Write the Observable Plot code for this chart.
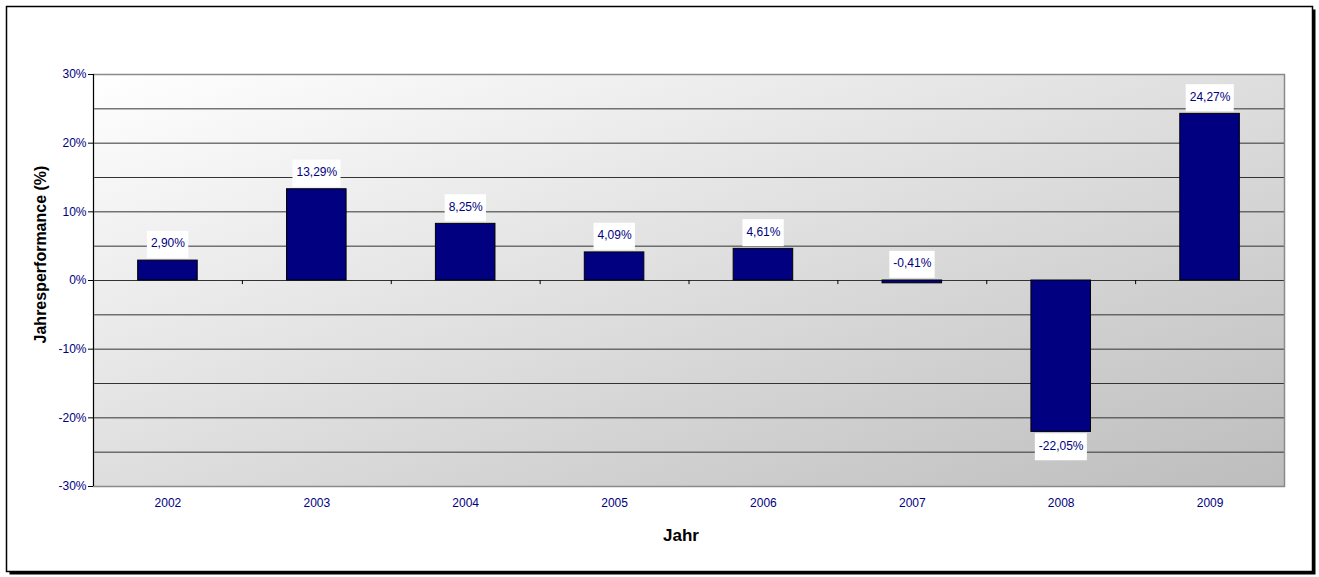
<!DOCTYPE html>
<html><head><meta charset="utf-8">
<script src="https://cdn.jsdelivr.net/npm/d3@7"></script>
<script src="https://cdn.jsdelivr.net/npm/@observablehq/plot@0.6"></script>
<style>
html,body{margin:0;padding:0;background:#fff;}
svg{display:block;}
</style></head><body>
<div id="chart"></div>
<script>
// ---- data ----
const years = ["2002","2003","2004","2005","2006","2007","2008","2009"];
const performance = [2.90, 13.29, 8.25, 4.09, 4.61, -0.41, -22.05, 24.27];
const yTickValues = [-30, -20, -10, 0, 10, 20, 30];
const gridValues = [-25, -20, -15, -10, -5, 0, 5, 10, 15, 20, 25];
const yTitle = "Jahresperformance (%)";
const xTitle = "Jahr";

const data = years.map((year, i) => ({i, year, value: performance[i]}));
const boundaries = years.slice(1).map((_, i) => i + 0.5);
const fmt = v => v.toFixed(2).replace(".", ",") + "%";

const NAVY = "#000080";
const FONT = "'Liberation Sans', Arial, sans-serif";

// outer chart-area frame with shadow
function outerFrame(index, scales, values, dims) {
  const g = d3.create("svg:g");
  g.append("rect").attr("x", 9.5).attr("y", 9.5).attr("width", dims.width - 13).attr("height", dims.height - 12).attr("fill", "#000");
  g.append("rect").attr("x", 6.5).attr("y", 6.5).attr("width", dims.width - 13).attr("height", dims.height - 12)
    .attr("fill", "#fff").attr("stroke", "#000").attr("stroke-width", 1.5);
  return g.node();
}
// gradient background of the plot area
function plotBackground(index, scales, values, dims) {
  const g = d3.create("svg:g");
  const grad = g.append("defs").append("linearGradient").attr("id", "bggrad")
    .attr("x1", 0).attr("y1", 0).attr("x2", 1).attr("y2", 1);
  grad.append("stop").attr("offset", 0).attr("stop-color", "#ffffff");
  grad.append("stop").attr("offset", 1).attr("stop-color", "#bdbdbd");
  g.append("rect").attr("x", dims.marginLeft).attr("y", dims.marginTop)
    .attr("width", dims.width - dims.marginLeft - dims.marginRight)
    .attr("height", dims.height - dims.marginTop - dims.marginBottom)
    .attr("fill", "url(#bggrad)");
  return g.node();
}

const above = data.filter(d => d.value > -1);
const below = data.filter(d => d.value <= -1);

const chart = Plot.plot({
  width: 1319, height: 577,
  marginLeft: 93, marginRight: 35, marginTop: 74, marginBottom: 91,
  style: {fontFamily: FONT, fontSize: "12px", background: "#fff", color: NAVY},
  x: {domain: [-0.5, years.length - 0.5], ticks: years.map((_, i) => i), tickFormat: i => years[i], tickSize: 0, tickPadding: 12, label: null},
  y: {domain: [-30, 30], ticks: yTickValues, tickFormat: d => d + "%", tickSize: 5, tickPadding: 2, label: null},
  marks: [
    outerFrame,
    plotBackground,
    Plot.ruleY(gridValues, {stroke: "#333", strokeWidth: 1}),
    Plot.frame({stroke: "#8a8a8a", strokeWidth: 1.5}),
    Plot.ruleX(boundaries, {y1: 0, y2: -0.6, stroke: "#000"}),
    Plot.rectY(data, {x1: d => d.i - 0.2, x2: d => d.i + 0.2, y1: 0, y2: "value", fill: NAVY, stroke: "#000", strokeWidth: 1}),
    Plot.ruleX([-0.5], {stroke: "#000"}),
    Plot.axisY({ticks: yTickValues, tickFormat: d => d + "%", tickSize: 5, tickPadding: 2, stroke: "#000", fill: NAVY, label: null}),
    Plot.axisX({ticks: years.map((_, i) => i), tickFormat: i => years[i], tickSize: 0, tickPadding: 12, fill: NAVY, label: null}),
    Plot.text(above, {x: "i", y: d => Math.max(d.value, 0), text: d => fmt(d.value), dy: -17, fill: NAVY, fontSize: 12}),
    Plot.text(below, {x: "i", y: "value", text: d => fmt(d.value), dy: 14, fill: NAVY, fontSize: 12}),
    Plot.text([yTitle], {frameAnchor: "left", textAnchor: "middle", lineAnchor: "middle", dx: -53, dy: -26, rotate: -90, fontSize: 16, fontWeight: "bold", fill: "#000"}),
    Plot.text([xTitle], {frameAnchor: "bottom", textAnchor: "middle", lineAnchor: "middle", dx: -8, dy: 49, fontSize: 17, fontWeight: "bold", fill: "#000"})
  ]
});
document.getElementById("chart").appendChild(chart);

// white label boxes behind data labels (sized from the rendered text)
const labelPattern = /^-?\d+,\d\d%$/;
chart.querySelectorAll('g[aria-label="text"] text').forEach(t => {
  if (!labelPattern.test(t.textContent)) return;
  const bb = t.getBBox();
  const r = document.createElementNS("http://www.w3.org/2000/svg", "rect");
  r.setAttribute("x", bb.x - 4);
  r.setAttribute("y", bb.y - 5.5);
  r.setAttribute("width", bb.width + 7);
  r.setAttribute("height", bb.height + 13);
  r.setAttribute("fill", "#fff");
  if (t.getAttribute("transform")) r.setAttribute("transform", t.getAttribute("transform"));
  t.parentNode.insertBefore(r, t);
});
</script>
</body></html>
